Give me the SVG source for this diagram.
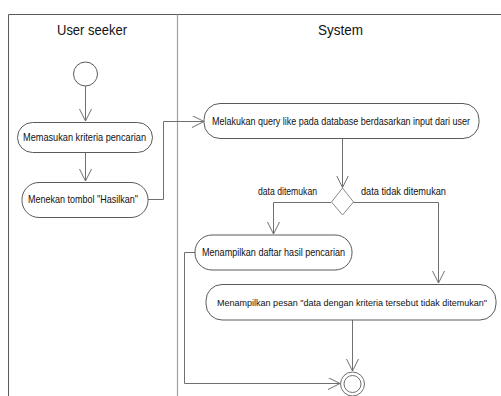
<svg xmlns="http://www.w3.org/2000/svg" width="501" height="396" viewBox="0 0 501 396">
<defs>
<style>
.frame{fill:none;stroke:#5a5a5a;stroke-width:1}
.lane{fill:none;stroke:#a0a0a0;stroke-width:1.2}
.node{fill:#fff;stroke:#5a5a5a;stroke-width:1}
.conn{fill:none;stroke:#707070;stroke-width:1}
.t{font-family:"Liberation Sans",Arial,sans-serif;font-size:11px;fill:#111}
.s{font-size:10px}
.xs{font-size:9.4px}
.h{font-family:"Liberation Sans",Arial,sans-serif;font-size:15px;fill:#111;text-anchor:middle}
</style>
<marker id="arr" markerWidth="14" markerHeight="14" refX="12" refY="6" orient="auto" markerUnits="userSpaceOnUse">
<path d="M0,0 L12,6 L0,12" fill="none" stroke="#707070" stroke-width="1"/>
</marker>
</defs>
<rect width="501" height="396" fill="#fff"/>
<g id="frame">
<path class="frame" d="M8.5,400 V14.5 H501"/>
<line class="lane" x1="177.5" y1="14.5" x2="177.5" y2="396"/>
<text class="h" x="92" y="35" textLength="70" lengthAdjust="spacingAndGlyphs">User seeker</text>
<text class="h" x="340.5" y="35" textLength="45" lengthAdjust="spacingAndGlyphs">System</text>
</g>
<g id="connectors">
<line class="conn" x1="85.5" y1="86" x2="85.5" y2="121" marker-end="url(#arr)"/>
<line class="conn" x1="85.5" y1="152" x2="85.5" y2="181" marker-end="url(#arr)"/>
<path class="conn" d="M148,199.5 H163.5 V121.5 H204" marker-end="url(#arr)"/>
<line class="conn" x1="342.5" y1="138" x2="342.5" y2="187.5" marker-end="url(#arr)"/>
<path class="conn" d="M331,202.5 H273.5 V234" marker-end="url(#arr)"/>
<path class="conn" d="M353,202.5 H438.5 V283" marker-end="url(#arr)"/>
<line class="conn" x1="352.5" y1="320" x2="352.5" y2="371" marker-end="url(#arr)"/>
<path class="conn" d="M195,252.5 H184.5 V383.5 H340" marker-end="url(#arr)"/>
<text class="t" x="258" y="195" textLength="59" lengthAdjust="spacingAndGlyphs">data ditemukan</text>
<text class="t" x="361" y="195" textLength="85" lengthAdjust="spacingAndGlyphs">data tidak ditemukan</text>
</g>
<g id="start">
<circle class="node" cx="85.5" cy="74" r="12"/>
</g>
<g id="n1">
<rect class="node" x="17.5" y="122.5" width="135" height="30" rx="15"/>
<text class="t" x="23" y="141" textLength="123" lengthAdjust="spacingAndGlyphs">Memasukan kriteria pencarian</text>
</g>
<g id="n2">
<rect class="node" x="22" y="182.5" width="126" height="35" rx="17"/>
<text class="t" x="28" y="203" textLength="110" lengthAdjust="spacingAndGlyphs">Menekan tombol "Hasilkan"</text>
</g>
<g id="n3">
<rect class="node" x="204" y="103.5" width="275" height="35" rx="16"/>
<text class="t s" x="212" y="124.5" textLength="258" lengthAdjust="spacingAndGlyphs">Melakukan query like pada database berdasarkan input dari user</text>
</g>
<g id="decision">
<polygon points="342.5,188 353.5,202 342.5,215 331.5,202" fill="#fff" stroke="#8a8a8a" stroke-width="1"/>
</g>
<g id="n4">
<rect class="node" x="195" y="235" width="157" height="35" rx="17"/>
<text class="t" x="202" y="256" textLength="143" lengthAdjust="spacingAndGlyphs">Menampilkan daftar hasil pencarian</text>
</g>
<g id="n5">
<rect class="node" x="206" y="284.5" width="290" height="35.5" rx="16"/>
<text class="t xs" x="217" y="305.5" textLength="270" lengthAdjust="spacingAndGlyphs">Menampilkan pesan "data dengan kriteria tersebut tidak ditemukan"</text>
</g>
<g id="end">
<circle cx="352.5" cy="384" r="12" fill="#fff" stroke="#707070" stroke-width="1"/>
<circle cx="352.5" cy="384" r="8.5" fill="#fff" stroke="#707070" stroke-width="1"/>
</g>
</svg>
